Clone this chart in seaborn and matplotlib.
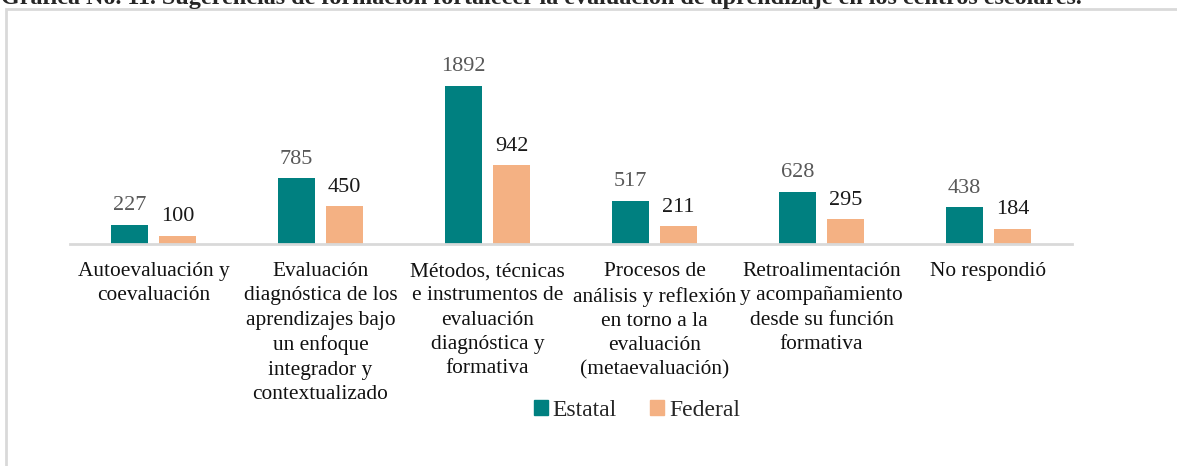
import numpy as np
import pandas as pd
import matplotlib
matplotlib.use('Agg')
import matplotlib.pyplot as plt
from matplotlib.patches import Rectangle
import seaborn as sns

categorias = [
    'Autoevaluación y\ncoevaluación',
    'Evaluación\ndiagnóstica de los\naprendizajes bajo\nun enfoque\nintegrador y\ncontextualizado',
    'Métodos, técnicas\ne instrumentos de\nevaluación\ndiagnóstica y\nformativa',
    'Procesos de\nanálisis y reflexión\nen torno a la\nevaluación\n(metaevaluación)',
    'Retroalimentación\ny acompañamiento\ndesde su función\nformativa',
    'No respondió',
]
estatal = [227, 785, 1892, 517, 628, 438]
federal = [100, 450, 942, 211, 295, 184]
series = ['Estatal', 'Federal']
colores = ['#008080', '#F4B183']

df = pd.DataFrame({
    'categoria': categorias * 2,
    'valor': estatal + federal,
    'serie': [series[0]] * len(estatal) + [series[1]] * len(federal),
})

sns.set_style('white')
plt.rcParams['font.family'] = ['Liberation Serif', 'DejaVu Serif']

fig = plt.figure(figsize=(11.77, 4.66), dpi=100)
ax = fig.add_axes([70 / 1177, 1 - 244 / 466, 1002 / 1177, 204 / 466])

sns.barplot(data=df, x='categoria', y='valor', hue='serie', palette=colores,
            width=0.575, gap=0.21, linewidth=0, saturation=1, ax=ax, legend=False)

ax.set_ylim(0, 2443)
ax.set_xlim(-0.5, len(categorias) - 0.5)
for c, col in zip(ax.containers, ['#595959', '#1a1a1a']):
    ax.bar_label(c, padding=7, fontsize=16, color=col)

for s in ['top', 'right', 'left']:
    ax.spines[s].set_visible(False)
ax.spines['bottom'].set_color('#D9D9D9')
ax.spines['bottom'].set_linewidth(2)
ax.set_yticks([])
ax.set_xlabel('')
ax.set_ylabel('')
ax.tick_params(axis='x', length=0, pad=13, labelsize=15.4)
for t in ax.get_xticklabels():
    t.set_linespacing(1.38)
    t.set_verticalalignment('top')
    t.set_color('#111111')

handles = [Rectangle((0, 0), 1, 1, color=c) for c in colores]
fig.legend(handles, series, loc='center', bbox_to_anchor=(637 / 1177, 1 - 410 / 466),
           ncol=2, frameon=False, fontsize=17, handlelength=0.6, handleheight=0.6,
           handletextpad=0.2, columnspacing=1.4)

# marco gris del gráfico
fig.patches.append(Rectangle((6 / 1177, -0.1), 1.2, 1 - 9 / 466 + 0.1, transform=fig.transFigure,
                             fill=False, edgecolor='#D9D9D9', linewidth=2))

fig.text(1 / 1177, 1 - 4 / 466,
         'Gráfica No. 11. Sugerencias de formación fortalecer la evaluación de aprendizaje en los centros escolares.',
         fontsize=17.4, fontweight='bold', ha='left', va='baseline')

fig.savefig('out.png', dpi=100, facecolor='white')
